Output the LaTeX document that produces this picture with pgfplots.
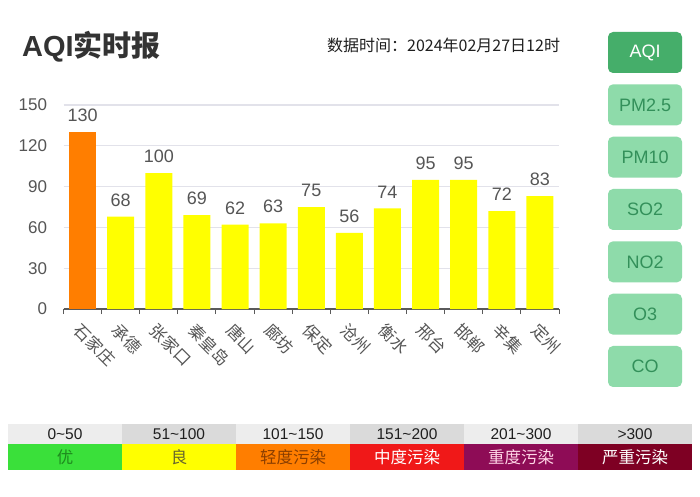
\documentclass[border=0pt]{standalone}
\usepackage{fontspec}
\setmainfont{Liberation Sans}
\newfontfamily\cjk{Noto Sans CJK SC}
\usepackage{pgfplots}
\pgfplotsset{compat=1.18}
\definecolor{barorange}{HTML}{FF7E00}
\definecolor{baryellow}{HTML}{FFFF00}
\definecolor{gridc}{HTML}{E2E2EA}
\definecolor{axisc}{HTML}{5A5A5A}
\definecolor{labc}{HTML}{555555}
\definecolor{titlec}{HTML}{333333}
\definecolor{btnDark}{HTML}{45AE6A}
\definecolor{btnLight}{HTML}{8EDBAA}
\definecolor{btnText}{HTML}{33905A}
\definecolor{legTopA}{HTML}{EDEDED}
\definecolor{legTopB}{HTML}{DADADA}
\definecolor{legGreen}{HTML}{3AE03A}
\definecolor{legGreenT}{HTML}{1E8A1E}
\definecolor{legYellow}{HTML}{FFFF00}
\definecolor{legYellowT}{HTML}{66662E}
\definecolor{legOrange}{HTML}{FF7E00}
\definecolor{legOrangeT}{HTML}{8A3E00}
\definecolor{legRed}{HTML}{F01818}
\definecolor{legPurple}{HTML}{8E0C56}
\definecolor{legPurpleT}{HTML}{FFD6E6}
\definecolor{legMaroon}{HTML}{7E0023}
\begin{document}
\begin{tikzpicture}
\begin{scope}[x=1pt,y=1pt]
\fill[white] (0,0) rectangle (700,496);
% title
\node[anchor=base west, inner sep=0, text=titlec, font=\fontsize{29}{29}\selectfont\bfseries] at (22,439) {AQI{\cjk\bfseries 实时报}};
\node[anchor=base west, inner sep=0, text=black!88, font=\cjk\fontsize{16}{16}\selectfont] at (327,444) {数据时间：2024年02月27日12时};
% buttons
\node[fill=btnDark, rounded corners=5pt, minimum width=74pt, minimum height=41pt, text=white, font=\fontsize{18}{18}\selectfont] at (645,443.5) {AQI};
\foreach \lab [count=\i] in {PM2.5,PM10,SO2,NO2,O3,CO}{
  \node[fill=btnLight, rounded corners=5pt, minimum width=74pt, minimum height=41pt, text=btnText, font=\fontsize{18}{18}\selectfont] at (645,{443.5-52.33*\i}) {\lab};
}
% legend
\fill[legTopA] (8,52) rectangle (122,72);
\fill[legTopB] (122,52) rectangle (236,72);
\fill[legTopA] (236,52) rectangle (350,72);
\fill[legTopB] (350,52) rectangle (464,72);
\fill[legTopA] (464,52) rectangle (578,72);
\fill[legTopB] (578,52) rectangle (692,72);
\fill[legGreen] (8,26) rectangle (122,52);
\fill[legYellow] (122,26) rectangle (236,52);
\fill[legOrange] (236,26) rectangle (350,52);
\fill[legRed] (350,26) rectangle (464,52);
\fill[legPurple] (464,26) rectangle (578,52);
\fill[legMaroon] (578,26) rectangle (692,52);
\begin{scope}[every node/.style={font=\fontsize{15.5}{15.5}\selectfont, text=black!88, inner sep=0}]
\node at (65,62) {0\textasciitilde 50};
\node at (179,62) {51\textasciitilde 100};
\node at (293,62) {101\textasciitilde 150};
\node at (407,62) {151\textasciitilde 200};
\node at (521,62) {201\textasciitilde 300};
\node at (635,62) {>300};
\end{scope}
\begin{scope}[every node/.style={font=\cjk\fontsize{16.5}{16.5}\selectfont, inner sep=0}]
\node[text=legGreenT] at (65,39) {优};
\node[text=legYellowT] at (179,39) {良};
\node[text=legOrangeT] at (293,39) {轻度污染};
\node[text=white] at (407,39) {中度污染};
\node[text=legPurpleT] at (521,39) {重度污染};
\node[text=white] at (635,39) {严重污染};
\end{scope}
\end{scope}
\begin{axis}[
  at={(63.5pt,187pt)}, anchor=south west,
  scale only axis, width=495.5pt, height=204pt,
  xmin=-0.5, xmax=12.5, ymin=0, ymax=150,
  ytick={0,30,...,150},
  xtick={0,...,12},
  xticklabels={石家庄,承德,张家口,秦皇岛,唐山,廊坊,保定,沧州,衡水,邢台,邯郸,辛集,定州},
  minor xtick={-0.5,0.5,...,12.5},
  major x tick style={draw=none},
  minor x tick style={draw=axisc, line width=1pt},
  minor tick length=5pt,
  tick align=outside,
  axis x line*=bottom, axis y line*=left,
  x axis line style={draw=axisc, line width=1.2pt, -},
  y axis line style={draw=none},
  ytick style={draw=none},
  ymajorgrids, grid style={draw=gridc, line width=1.2pt},
  /pgf/number format/assume math mode=true,
  yticklabel style={font=\fontsize{17}{17}\selectfont, text=labc, anchor=east, inner sep=0pt, xshift=-12pt},
  xticklabel style={font=\cjk\fontsize{16.5}{16.5}\selectfont, text=labc, rotate=-45, anchor=north west, inner sep=0pt, xshift=6pt, yshift=-6pt},
  ybar, bar width=27pt,
  nodes near coords,
  every node near coord/.append style={font=\fontsize{18}{18}\selectfont, text=labc, anchor=south, inner sep=0pt, yshift=10pt},
  clip=false,
]
\addplot[fill=barorange, draw=none, bar shift=0pt] table {
x y
0 130
};
\addplot[fill=baryellow, draw=none, bar shift=0pt] table {
x y
1 68
2 100
3 69
4 62
5 63
6 75
7 56
8 74
9 95
10 95
11 72
12 83
};
\end{axis}
\end{tikzpicture}
\end{document}
